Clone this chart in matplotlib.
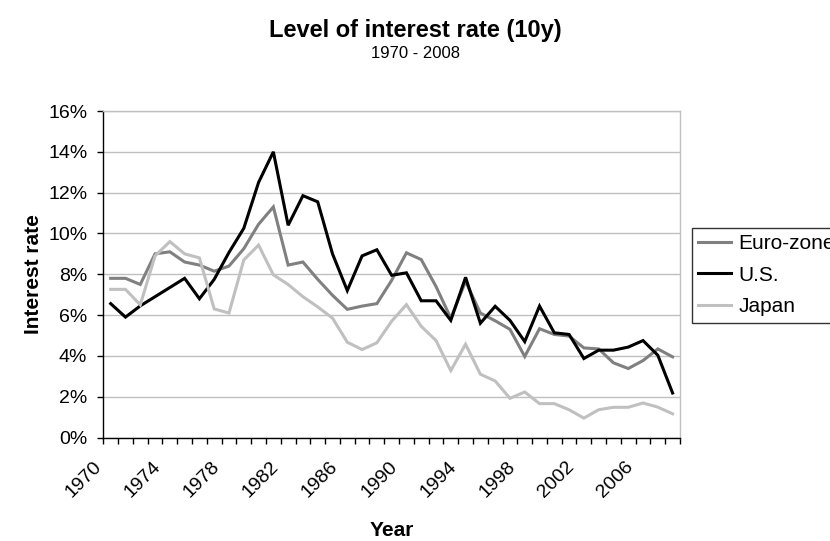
import numpy as np
import matplotlib
matplotlib.use("Agg")
import matplotlib.pyplot as plt
from matplotlib.ticker import FixedLocator, FuncFormatter
from matplotlib.transforms import ScaledTranslation

years = list(range(1970, 2009))

euro_zone = [7.8, 7.8, 7.5, 9.0, 9.1, 8.6, 8.45, 8.15, 8.4, 9.25,
             10.45, 11.3, 8.45, 8.6, 7.75, 6.97, 6.28, 6.44, 6.56, 7.7,
             9.05, 8.72, 7.4, 5.85, 7.65, 6.1, 5.72, 5.3, 3.97, 5.33,
             5.05, 4.97, 4.39, 4.34, 3.66, 3.38, 3.77, 4.34, 3.95]

us = [6.56, 5.9, 6.45, 6.9, 7.35, 7.8, 6.8, 7.75, 9.07, 10.25,
      12.5, 14.0, 10.4, 11.85, 11.55, 9.0, 7.2, 8.9, 9.2, 7.95,
      8.07, 6.7, 6.7, 5.74, 7.85, 5.6, 6.43, 5.74, 4.7, 6.44,
      5.13, 5.05, 3.87, 4.28, 4.28, 4.43, 4.75, 4.03, 2.18]

japan = [7.26, 7.26, 6.5, 8.9, 9.6, 9.0, 8.8, 6.3, 6.1, 8.7,
         9.43, 7.97, 7.5, 6.9, 6.4, 5.85, 4.67, 4.31, 4.64, 5.7,
         6.51, 5.45, 4.75, 3.28, 4.57, 3.1, 2.77, 1.92, 2.23, 1.66,
         1.66, 1.36, 0.95, 1.36, 1.48, 1.48, 1.69, 1.49, 1.16]

series_names = ["Euro-zone", "U.S.", "Japan"]
series_colors = ["#808080", "#000000", "#c0c0c0"]

plt.rcParams["font.family"] = ["Liberation Sans", "DejaVu Sans"]

W, H = 830, 541
fig = plt.figure(figsize=(W / 100, H / 100), dpi=100)
left, right, top, bottom = 103.3, 680, 111, 437.5
ax = fig.add_axes([left / W, 1 - bottom / H, (right - left) / W, (bottom - top) / H])

# categories sit in the middle of each slot; ticks mark the slot edges
pos = np.arange(len(years)) + 0.5
for vals, name, col in zip([euro_zone, us, japan], series_names, series_colors):
    ax.plot(pos, vals, color=col, lw=2.2, label=name, solid_joinstyle="miter")

ax.set_xlim(0, len(years))
ax.set_ylim(0, 16)

ax.yaxis.set_major_locator(FixedLocator(np.arange(0, 17, 2)))
ax.yaxis.set_major_formatter(FuncFormatter(lambda v, p: f"{v:.0f}%"))
ax.grid(axis="y", color="#c0c0c0", lw=1.0)
ax.set_axisbelow(True)

ax.set_xticks(np.arange(0, len(years) + 1))
ax.set_xticklabels([])
ax.set_xticks(pos[::4], minor=True)
ax.set_xticklabels([str(y) for y in years[::4]], minor=True,
                   rotation=45, ha="right", va="center", rotation_mode="anchor")
ax.tick_params(axis="x", which="major", length=4.5, width=1, direction="out", color="black")
ax.tick_params(axis="x", which="minor", length=0, pad=19, labelsize=14)
ax.tick_params(axis="y", length=4.5, width=1, direction="out", labelsize=14, pad=7)

shift = ScaledTranslation(-12 / 100, 0, fig.dpi_scale_trans)
for lbl in ax.get_xticklabels(minor=True):
    lbl.set_transform(lbl.get_transform() + shift)

for side in ("left", "bottom"):
    ax.spines[side].set_color("black")
    ax.spines[side].set_linewidth(1.0)
for side in ("right", "top"):
    ax.spines[side].set_color("#c0c0c0")
    ax.spines[side].set_linewidth(1.0)

ax.set_ylabel("Interest rate", fontsize=15, fontweight="bold", va="center")
ax.yaxis.set_label_coords((33 - left) / (right - left), 0.5)
ax.set_xlabel("Year", fontsize=15, fontweight="bold", va="center")
ax.xaxis.set_label_coords(0.5, (bottom - 531) / (bottom - top))

fig.text(0.5, 1 - 31 / H, "Level of interest rate (10y)", ha="center", va="center",
         fontsize=17, fontweight="bold")
fig.text(0.5, 1 - 54 / H, "1970 - 2008", ha="center", va="center", fontsize=12)

leg = ax.legend(loc="upper left", bbox_to_anchor=(691.7 / W, 1 - 228 / H),
                bbox_transform=fig.transFigure, frameon=True, fancybox=False,
                edgecolor="black", fontsize=15, handlelength=1.6, handletextpad=0.34,
                borderaxespad=0, labelspacing=0.6, borderpad=0.3, handleheight=0.7)
leg.get_frame().set_linewidth(1.0)

fig.savefig("out.png", dpi=100)
